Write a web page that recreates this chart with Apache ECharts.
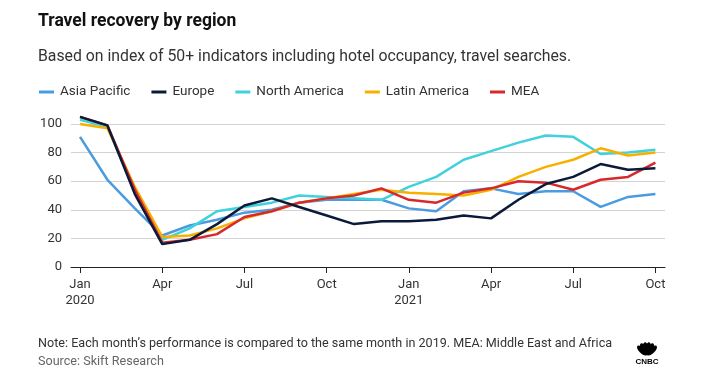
<!DOCTYPE html>
<html>
<head>
<meta charset="utf-8">
<script src="https://cdn.jsdelivr.net/npm/echarts@6/dist/echarts.min.js"></script>
<style>
html,body{margin:0;padding:0;background:#fff;}
#c{width:708px;height:384px;}
</style>
</head>
<body>
<div id="c"></div>
<script>
// Months from Jan 2020 (index 0) to Oct 2021 (index 21)
const tickMonths = [0, 3, 6, 9, 12, 15, 18, 21];
const tickLabels = ['Jan\n2020', 'Apr', 'Jul', 'Oct', 'Jan\n2021', 'Apr', 'Jul', 'Oct'];
const seriesNames = ['Asia Pacific', 'Europe', 'North America', 'Latin America', 'MEA'];

const asiaPacific   = [91, 61, 41, 22, 29, 33, 38, 40, 45, 47, 47, 47, 41, 39, 53, 55, 51, 53, 53, 42, 49, 51];
const europe        = [105, 99, 51, 16, 19, 30, 43, 48, 42, 36, 30, 32, 32, 33, 36, 34, 47, 58, 63, 72, 68, 69];
const northAmerica  = [103, 98, 53, 19, 27, 39, 42, 45, 50, 49, 48, 47, 56, 63, 75, 81, 87, 92, 91, 79, 80, 82];
const latinAmerica  = [100, 97, 56, 21, 22, 27, 34, 39, 45, 48, 51, 54, 52, 51, 50, 54, 63, 70, 75, 83, 78, 80];
const mea           = [105, 99, 54, 17, 19, 23, 35, 39, 45, 48, 50, 55, 47, 45, 52, 55, 60, 59, 54, 61, 63, 73];

const colors = ['#4a9be0', '#0c1a3a', '#3fd2dc', '#f8b000', '#d7292c'];
const allData = [asiaPacific, europe, northAmerica, latinAmerica, mea];
const zOrder = [2, 6, 3, 4, 5];

const FONT = 'Roboto, "Noto Sans", sans-serif';

const chart = echarts.init(document.getElementById('c'), null, {renderer: 'canvas'});

function feathers() {
  const els = [];
  const bx = 647, by = 355.5;
  const angles = [-45, -27, -9, 9, 27, 45];
  angles.forEach(a => {
    const r = a * Math.PI / 180;
    const len = 7;
    els.push({
      type: 'ellipse',
      x: bx + Math.sin(r) * len,
      y: by - Math.cos(r) * len,
      rotation: -r,
      shape: {cx: 0, cy: 0, rx: 2.8, ry: 6.5},
      style: {fill: '#000'}
    });
  });
  els.push({
    type: 'text', x: bx, y: by + 2.5,
    style: {text: 'CNBC', fill: '#000', font: 'bold 8px "Liberation Sans", Arial, sans-serif', align: 'center', verticalAlign: 'top'}
  });
  return els;
}

chart.setOption({
  animation: false,
  backgroundColor: '#fff',
  textStyle: {fontFamily: FONT},
  title: [
    {text: 'Travel recovery by region', left: 38, top: 13, padding: 0,
     textStyle: {fontSize: 17.5, fontWeight: 'bold', color: '#111', fontFamily: FONT}},
    {text: 'Based on index of 50+ indicators including hotel occupancy, travel searches.', left: 38, top: 49, padding: 0,
     textStyle: {fontSize: 15.8, fontWeight: 'normal', color: '#333', fontFamily: FONT}},
    {text: 'Note: Each month\u2019s performance is compared to the same month in 2019. MEA: Middle East and Africa', left: 38, top: 337, padding: 0,
     textStyle: {fontSize: 12.6, fontWeight: 'normal', color: '#333', fontFamily: FONT}},
    {text: 'Source: Skift Research', left: 38, top: 355, padding: 0,
     textStyle: {fontSize: 12.6, fontWeight: 'normal', color: '#666', fontFamily: FONT}}
  ],
  legend: {
    data: seriesNames,
    left: 39, top: 85, padding: 0,
    icon: 'rect', itemWidth: 15, itemHeight: 3, itemGap: 21,
    textStyle: {fontSize: 13.5, color: '#333', fontFamily: FONT, padding: [0, 0, 0, 1]}
  },
  grid: {left: 71, right: 43, top: 124, bottom: 117, containLabel: false},
  xAxis: {
    type: 'value', min: -0.33, max: 21.35,
    axisLine: {show: true, lineStyle: {color: '#222', width: 1}},
    axisTick: {show: true, customValues: tickMonths, length: 6, lineStyle: {color: '#222'}},
    axisLabel: {
      customValues: tickMonths, color: '#333', fontSize: 13, fontFamily: FONT, margin: 10, lineHeight: 16,
      formatter: v => tickLabels[tickMonths.indexOf(Math.round(v))] || ''
    },
    splitLine: {show: false}
  },
  yAxis: {
    type: 'value', min: 0, max: 100, interval: 20,
    axisLine: {show: false}, axisTick: {show: false},
    axisLabel: {color: '#333', fontSize: 13, fontFamily: FONT, margin: 9},
    splitLine: {lineStyle: {color: '#d3d3d3', width: 1}}
  },
  series: seriesNames.map((name, k) => ({
    name, type: 'line', clip: false, showSymbol: false, symbol: 'none',
    z: zOrder[k],
    data: allData[k].map((v, i) => [i, v]),
    lineStyle: {color: colors[k], width: 2.5},
    itemStyle: {color: colors[k]}
  })),
  graphic: feathers()
});
</script>
</body>
</html>
